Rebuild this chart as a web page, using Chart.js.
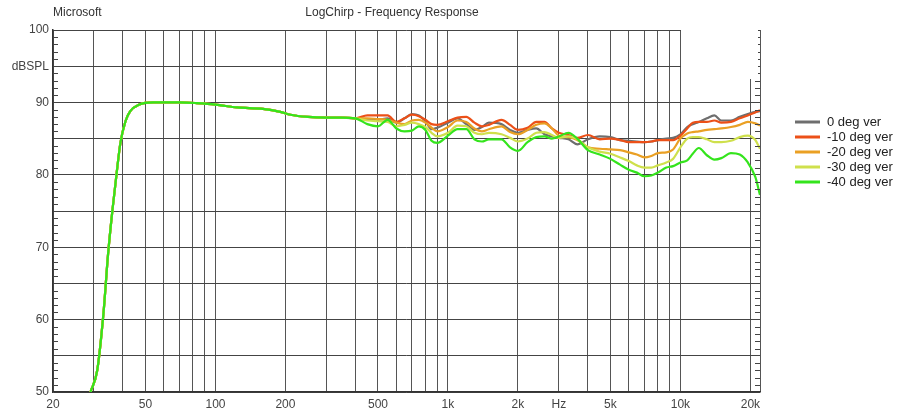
<!DOCTYPE html>
<html>
<head>
<meta charset="utf-8">
<script src="https://cdn.jsdelivr.net/npm/chart.js@4.4.1/dist/chart.umd.min.js"></script>
<style>
  html, body { margin: 0; padding: 0; background: #fff; }
  #wrap { width: 911px; height: 412px; }
</style>
</head>
<body>
<div id="wrap"><canvas id="fr" width="911" height="412"></canvas></div>
<script>
// shared low end (all curves identical here)
const lowFreqHz = [29, 31, 33, 34.5, 36, 37.5, 39, 41, 43, 47, 54, 70, 83, 100, 124, 160, 190, 210, 250, 300, 350];
const lowLevelDb = [50, 53, 61, 69, 75, 80, 84.4, 87.4, 88.8, 89.7, 90, 90, 89.9, 89.7, 89.3, 89.1, 88.7, 88.3, 88.0, 87.9, 87.9];

const freqHz = [400, 450, 500, 550, 600, 650, 700, 750, 800, 850,
  900, 1000, 1100, 1200, 1300, 1400, 1500, 1700, 1850, 2000,
  2200, 2400, 2600, 2800, 3000, 3300, 3600, 4000, 4500, 5000,
  5500, 6000, 6500, 7000, 7500, 8000, 8700, 9300, 10000, 10700,
  11300, 12000, 13000, 14000, 15000, 16500, 18000, 19500, 21000, 22000];

const deg0 = [87.8, 87.7, 87.6, 87.8, 87.2, 87.8, 88.4, 88.2, 87.4, 86.3,
  86.5, 87.2, 87.8, 87.0, 86.2, 86.6, 87.2, 87.0, 86.2, 85.8,
  86.2, 86.4, 85.6, 85.3, 85.1, 84.9, 84.2, 84.9, 85.3, 85.2,
  84.8, 84.7, 84.6, 84.5, 84.6, 84.8, 85.0, 85.1, 85.6, 86.6,
  87.0, 87.3, 87.8, 88.2, 87.5, 87.5, 88.0, 88.4, 88.7, 88.8];
const deg10 = [87.8, 88.2, 88.2, 88.2, 87.3, 87.8, 88.3, 88.1, 87.6, 87.0,
  86.9, 87.4, 87.9, 88.0, 87.2, 86.7, 86.9, 87.6, 86.9, 86.2,
  86.5, 87.3, 87.3, 86.4, 85.8, 85.5, 85.1, 85.5, 84.9, 85.0,
  84.8, 84.5, 84.5, 84.5, 84.6, 84.8, 84.8, 84.8, 85.4, 86.4,
  87.2, 87.3, 87.3, 87.5, 87.2, 87.3, 87.8, 88.2, 88.6, 88.9];
const deg20 = [87.8, 87.8, 87.7, 87.6, 87.2, 87.0, 87.5, 87.6, 87.2, 86.5,
  86.0, 86.6, 87.5, 87.3, 86.4, 86.0, 86.3, 86.7, 85.9, 85.6,
  86.2, 86.9, 87.1, 86.4, 85.4, 85.2, 84.8, 83.8, 83.6, 83.5,
  83.4, 83.1, 82.8, 82.4, 82.6, 83.0, 83.1, 83.5, 85.0, 85.7,
  85.9, 86.0, 86.2, 86.3, 86.4, 86.6, 86.9, 87.3, 87.1, 86.8];
const deg30 = [87.8, 87.5, 87.4, 87.3, 86.7, 86.9, 87.2, 87.0, 86.6, 85.8,
  85.3, 85.8, 86.8, 86.7, 85.8, 85.6, 85.8, 85.6, 85.1, 84.6,
  85.0, 85.8, 85.9, 85.5, 85.1, 85.3, 84.9, 83.8, 83.2, 82.9,
  82.4, 81.9, 81.3, 81.0, 81.0, 81.3, 81.7, 82.2, 83.8, 85.0,
  85.2, 85.2, 84.9, 84.5, 84.5, 84.7, 85.2, 85.4, 84.8, 83.6];
const deg40 = [87.8, 87.0, 86.7, 87.6, 86.4, 86.0, 86.1, 86.7, 86.2, 84.7,
  84.4, 85.4, 86.3, 86.3, 84.9, 84.6, 84.9, 84.9, 83.8, 83.3,
  84.5, 85.2, 85.3, 85.0, 85.3, 85.8, 85.0, 83.4, 82.8, 82.2,
  81.4, 80.7, 80.3, 79.8, 79.9, 80.3, 81.0, 81.2, 81.7, 82.0,
  82.9, 83.7, 82.7, 82.1, 82.3, 83.0, 82.8, 81.7, 79.7, 77.2];

const seriesNames = ["0 deg ver", "-10 deg ver", "-20 deg ver", "-30 deg ver", "-40 deg ver"];
const seriesColors = ["#6e6e6e", "#ec5018", "#eaa024", "#cfe04c", "#34e41c"];
const seriesLevels = [deg0, deg10, deg20, deg30, deg40];

const xGridHz = [20, 30, 40, 50, 60, 70, 80, 90, 100, 200, 300, 400, 500, 600, 700, 800, 900,
  1000, 2000, 3000, 4000, 5000, 6000, 7000, 8000, 9000, 10000, 20000, 22000];
const xLabels = { 20: "20", 50: "50", 100: "100", 200: "200", 500: "500", 1000: "1k",
  2000: "2k", 3000: "Hz", 5000: "5k", 10000: "10k", 20000: "20k" };
const yLabels = { 100: "100", 95: "dBSPL", 90: "90", 80: "80", 70: "70", 60: "60", 50: "50" };

const FONT = "'Liberation Sans', Arial, sans-serif";

function toPoints(levels) {
  const pts = lowFreqHz.map((f, i) => ({ x: f, y: lowLevelDb[i] }));
  return pts.concat(freqHz.map((f, i) => ({ x: f, y: levels[i] })));
}

const datasets = seriesLevels.map((lv, i) => ({
  label: seriesNames[i],
  data: toPoints(lv),
  borderColor: seriesColors[i],
  borderWidth: 2.2,
  pointRadius: 0,
  cubicInterpolationMode: "monotone",
  order: seriesLevels.length - 1 - i
}));

// titles, legend, minor ticks, the blank patch top right
const decor = {
  id: "decor",
  afterDraw(chart) {
    const ctx = chart.ctx;
    const a = chart.chartArea;
    const y = chart.scales.y;
    ctx.save();
    ctx.strokeStyle = "#444";
    ctx.lineWidth = 1;
    ctx.beginPath();
    for (let v = 51; v < 100; v++) {
      if (v % 5 === 0) continue;
      const py = Math.round(y.getPixelForValue(v)) + 0.5;
      ctx.moveTo(a.left, py); ctx.lineTo(a.left + 5, py);
      ctx.moveTo(a.right, py); ctx.lineTo(a.right - 5, py);
    }
    ctx.stroke();

    ctx.fillStyle = "#fff";
    ctx.fillRect(681, 22, 77, 57);

    ctx.fillStyle = "#333";
    ctx.font = "12px " + FONT;
    ctx.textBaseline = "middle";
    ctx.textAlign = "left";
    ctx.fillText("Microsoft", 53, 13);
    ctx.textAlign = "center";
    ctx.fillText("LogChirp - Frequency Response", 392, 13);

    ctx.textAlign = "left";
    ctx.font = "13px " + FONT;
    seriesNames.forEach((name, i) => {
      const ly = 122 + i * 15;
      ctx.strokeStyle = seriesColors[i];
      ctx.lineWidth = 3;
      ctx.beginPath();
      ctx.moveTo(795, ly); ctx.lineTo(820, ly);
      ctx.stroke();
      ctx.fillStyle = "#222";
      ctx.fillText(name, 827, ly);
    });
    ctx.restore();
  }
};

new Chart(document.getElementById("fr"), {
  type: "line",
  data: { datasets },
  options: {
    responsive: false,
    animation: false,
    layout: { padding: { top: 30, right: 151, left: 0, bottom: 0 } },
    plugins: { legend: { display: false }, tooltip: { enabled: false } },
    scales: {
      x: {
        type: "logarithmic",
        min: 20,
        max: 22000,
        afterBuildTicks: (s) => { s.ticks = xGridHz.map(v => ({ value: v })); },
        afterFit: (s) => { s.height = 20; },
        grid: { color: "#555", lineWidth: 1, drawTicks: false },
        border: { color: "#333", width: 1.5 },
        ticks: {
          autoSkip: false, maxRotation: 0, padding: 5,
          color: "#444", font: { family: FONT, size: 12 },
          callback: (v) => xLabels[v] || ""
        }
      },
      y: {
        min: 50,
        max: 100,
        afterFit: (s) => { s.width = 53; },
        grid: { color: "#444", lineWidth: 1, drawTicks: false },
        border: { color: "#333", width: 1.5 },
        ticks: {
          stepSize: 5, padding: 4,
          color: "#444", font: { family: FONT, size: 12 },
          callback: (v) => yLabels[v] || ""
        }
      }
    }
  },
  plugins: [decor]
});
</script>
</body>
</html>
